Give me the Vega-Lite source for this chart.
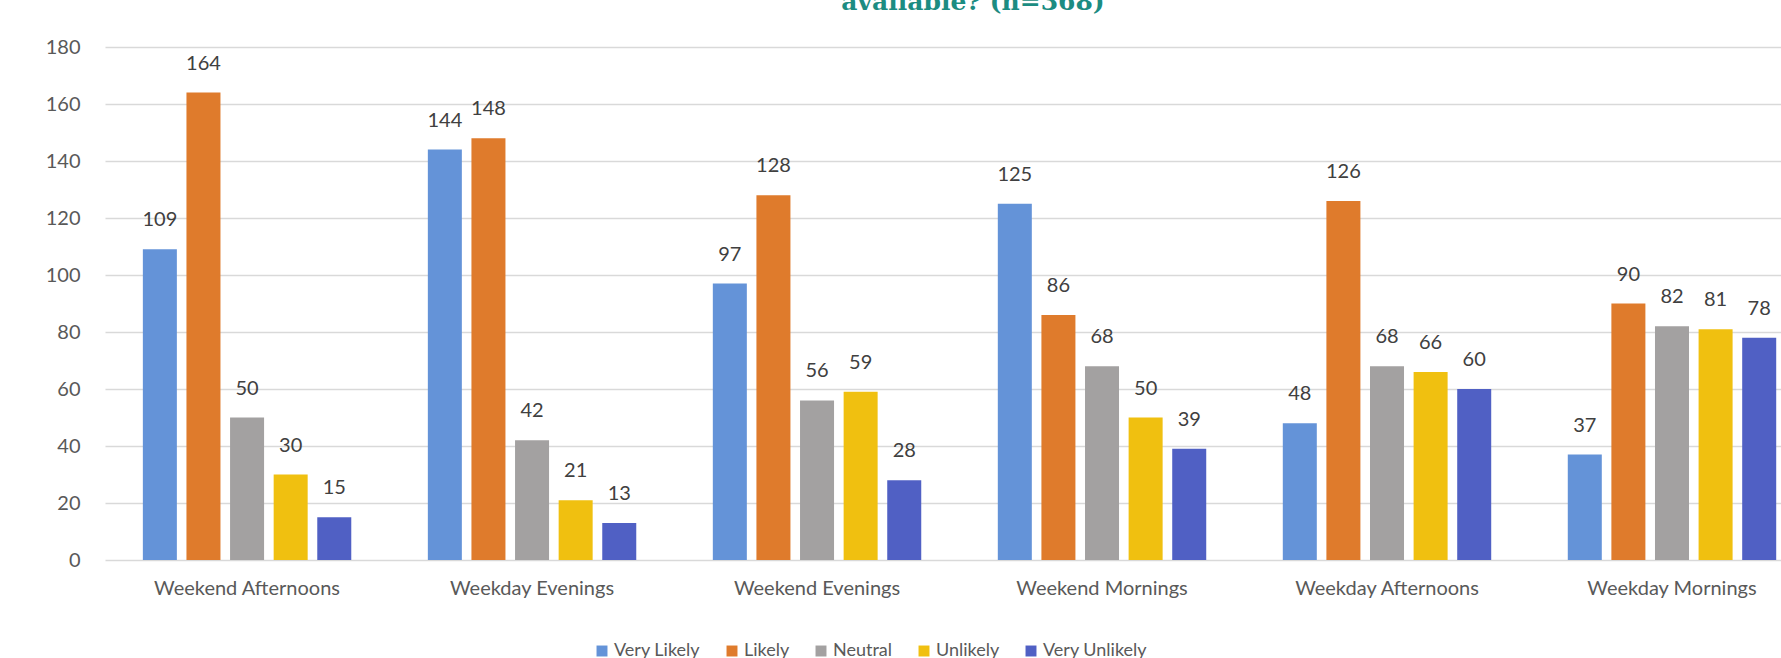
{
  "$schema": "https://vega.github.io/schema/vega-lite/v6.json",
  "autosize": {"type": "none"},
  "width": 1676,
  "height": 513,
  "padding": {"left": 105, "top": 47, "right": 0, "bottom": 98},
  "background": "white",
  "title": {
    "text": "available? (n=368)",
    "font": "DejaVu Serif",
    "fontSize": 25,
    "fontWeight": "bold",
    "color": "#1C8C82",
    "anchor": "middle",
    "baseline": "alphabetic",
    "offset": 2,
    "dx": 30
  },
  "data": {
    "values": [
      {"slot": "Weekend Afternoons", "response": "Very Likely", "count": 109},
      {"slot": "Weekend Afternoons", "response": "Likely", "count": 164},
      {"slot": "Weekend Afternoons", "response": "Neutral", "count": 50},
      {"slot": "Weekend Afternoons", "response": "Unlikely", "count": 30},
      {"slot": "Weekend Afternoons", "response": "Very Unlikely", "count": 15},
      {"slot": "Weekday Evenings", "response": "Very Likely", "count": 144},
      {"slot": "Weekday Evenings", "response": "Likely", "count": 148},
      {"slot": "Weekday Evenings", "response": "Neutral", "count": 42},
      {"slot": "Weekday Evenings", "response": "Unlikely", "count": 21},
      {"slot": "Weekday Evenings", "response": "Very Unlikely", "count": 13},
      {"slot": "Weekend Evenings", "response": "Very Likely", "count": 97},
      {"slot": "Weekend Evenings", "response": "Likely", "count": 128},
      {"slot": "Weekend Evenings", "response": "Neutral", "count": 56},
      {"slot": "Weekend Evenings", "response": "Unlikely", "count": 59},
      {"slot": "Weekend Evenings", "response": "Very Unlikely", "count": 28},
      {"slot": "Weekend Mornings", "response": "Very Likely", "count": 125},
      {"slot": "Weekend Mornings", "response": "Likely", "count": 86},
      {"slot": "Weekend Mornings", "response": "Neutral", "count": 68},
      {"slot": "Weekend Mornings", "response": "Unlikely", "count": 50},
      {"slot": "Weekend Mornings", "response": "Very Unlikely", "count": 39},
      {"slot": "Weekday Afternoons", "response": "Very Likely", "count": 48},
      {"slot": "Weekday Afternoons", "response": "Likely", "count": 126},
      {"slot": "Weekday Afternoons", "response": "Neutral", "count": 68},
      {"slot": "Weekday Afternoons", "response": "Unlikely", "count": 66},
      {"slot": "Weekday Afternoons", "response": "Very Unlikely", "count": 60},
      {"slot": "Weekday Mornings", "response": "Very Likely", "count": 37},
      {"slot": "Weekday Mornings", "response": "Likely", "count": 90},
      {"slot": "Weekday Mornings", "response": "Neutral", "count": 82},
      {"slot": "Weekday Mornings", "response": "Unlikely", "count": 81},
      {"slot": "Weekday Mornings", "response": "Very Unlikely", "count": 78}
    ]
  },
  "encoding": {
    "x": {
      "field": "slot",
      "type": "nominal",
      "sort": null,
      "title": null,
      "scale": {"paddingInner": 0.235, "paddingOuter": 0.058, "align": 1},
      "axis": {
        "labelAngle": 0,
        "labelFont": "Lato",
        "labelFontSize": 20,
        "labelColor": "#595959",
        "labelPadding": 18,
        "labelLimit": 0,
        "ticks": false,
        "domain": false
      }
    },
    "xOffset": {
      "field": "response",
      "type": "nominal",
      "sort": ["Very Likely", "Likely", "Neutral", "Unlikely", "Very Unlikely"],
      "scale": {"paddingInner": 0.22, "paddingOuter": 0.11}
    },
    "y": {
      "field": "count",
      "type": "quantitative",
      "title": null,
      "scale": {"domain": [0, 180], "nice": false},
      "axis": {
        "values": [0, 20, 40, 60, 80, 100, 120, 140, 160, 180],
        "labelFont": "Lato",
        "labelFontSize": 20,
        "labelColor": "#595959",
        "labelPadding": 25,
        "ticks": false,
        "domain": false,
        "gridColor": "#D9D9D9",
        "gridWidth": 1.5
      }
    }
  },
  "layer": [
    {
      "mark": {"type": "bar"},
      "encoding": {
        "color": {
          "field": "response",
          "type": "nominal",
          "title": null,
          "scale": {
            "domain": ["Very Likely", "Likely", "Neutral", "Unlikely", "Very Unlikely"],
            "range": ["#6493D8", "#DF7B2C", "#A3A1A1", "#F0C010", "#5060C4"]
          },
          "legend": {
            "orient": "none",
            "direction": "horizontal",
            "legendX": 488,
            "legendY": 595,
            "symbolType": "square",
            "symbolSize": 120,
            "symbolStrokeWidth": 0,
            "labelFont": "Lato",
            "labelFontSize": 18,
            "labelColor": "#595959",
            "labelOffset": 3,
            "columnPadding": 22
          }
        }
      }
    },
    {
      "mark": {
        "type": "text",
        "baseline": "alphabetic",
        "dy": -23,
        "font": "Lato",
        "fontSize": 20,
        "color": "#404040"
      },
      "encoding": {
        "text": {"field": "count", "type": "quantitative"}
      }
    }
  ],
  "config": {
    "view": {"stroke": null}
  }
}
